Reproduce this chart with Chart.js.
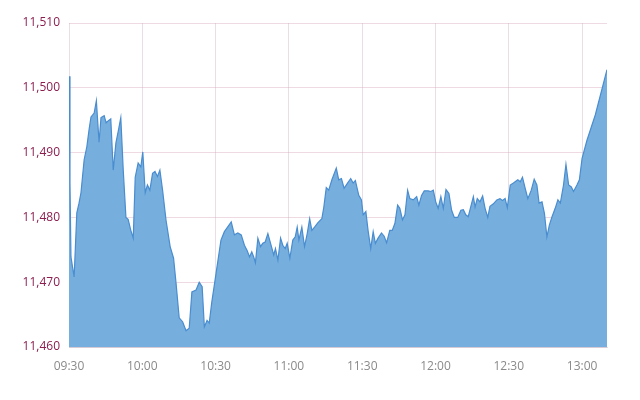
<!DOCTYPE html>
<html>
<head>
<meta charset="utf-8">
<script src="https://cdn.jsdelivr.net/npm/chart.js@4"></script>
<style>
  html, body { margin: 0; padding: 0; background: #fff; }
  #wrap { width: 640px; height: 400px; position: relative; }
</style>
</head>
<body>
<div id="wrap"><canvas id="myChart" width="640" height="400"></canvas></div>
<script>
// minutes after 09:30
const minutes = [0, 0.4, 0.8, 2.1, 3.2, 4.1, 4.9, 6.2, 7.3, 8.2, 9.0, 10.3, 11.2, 12.3, 13.1, 14.4, 15.2, 16.0, 17.1, 18.1,
  19.2, 20.1, 21.2, 22.2, 23.3, 24.2, 25.3, 26.3, 27.1, 28.3, 29.4, 30.2, 31.2, 32.1, 33.1, 34.2, 35.2, 36.2, 37.2, 38.3,
  39.7, 41.4, 42.8, 43.8, 45.1, 46.5, 47.9, 49.2, 50.3, 52.0, 53.3, 54.5, 55.4, 56.5, 57.4, 58.4, 60.2, 62.2, 63.6, 64.9,
  66.4, 67.7, 69.1, 70.5, 71.8, 72.9, 73.9, 74.8, 75.6, 76.3, 77.3, 78.4, 79.3, 80.3, 81.4, 82.5, 83.8, 84.5, 85.5, 86.6,
  87.5, 88.5, 89.3, 90.4, 91.6, 92.6, 93.4, 94.1, 95.3, 96.4, 97.5, 98.5, 99.4, 100.5, 101.9, 103.5, 104.3, 105.3, 106.3, 107.6,
  109.4, 110.4, 111.5, 112.6, 114.0, 115.3, 116.3, 117.2, 118.6, 119.7, 120.4, 121.5, 122.4, 123.5, 124.5, 125.4, 126.5, 127.9, 129.0, 130.0,
  131.3, 132.3, 133.4, 134.5, 135.4, 136.5, 137.5, 138.6, 139.5, 140.9, 142.3, 143.2, 144.3, 145.4, 147.0, 148.1, 149.1, 150.1, 151.1, 152.2,
  153.2, 154.3, 155.5, 156.6, 157.7, 159.1, 160.4, 161.4, 162.4, 163.4, 164.4, 165.5, 166.2, 167.1, 168.2, 169.3, 170.3, 171.4, 172.3, 173.7,
  175.1, 176.4, 177.4, 178.5, 179.4, 180.6, 181.9, 183.7, 184.7, 185.6, 186.7, 187.8, 189.2, 190.4, 191.5, 192.4, 193.6, 194.6, 195.6, 196.6,
  197.7, 199.0, 200.1, 201.1, 202.4, 203.4, 204.5, 205.6, 206.5, 207.9, 208.9, 210.0, 212.0, 215.4, 220.2];

const prices = [11501.8, 11485.3, 11473.9, 11470.8, 11480.7, 11482.2, 11483.8, 11488.9, 11490.9, 11493.5, 11495.5, 11496.1, 11498.0, 11491.6, 11495.4, 11495.7, 11494.6, 11494.9, 11495.2, 11487.3,
  11491.5, 11493.2, 11495.4, 11487.3, 11480.0, 11479.7, 11478.0, 11476.8, 11486.2, 11488.4, 11487.8, 11490.1, 11483.8, 11485.0, 11484.2, 11486.8, 11487.1, 11486.3, 11487.3, 11484.2,
  11479.6, 11475.5, 11473.7, 11469.9, 11464.5, 11463.9, 11462.5, 11462.9, 11468.5, 11468.8, 11470.0, 11469.3, 11463.1, 11464.1, 11463.7, 11466.8, 11471.4, 11476.5, 11477.8, 11478.5,
  11479.3, 11477.3, 11477.6, 11477.3, 11475.7, 11474.9, 11473.9, 11474.7, 11473.9, 11473.0, 11476.8, 11475.5, 11476.0, 11476.2, 11477.5, 11476.0, 11474.2, 11475.2, 11473.4, 11476.8,
  11475.7, 11475.2, 11476.0, 11473.7, 11476.5, 11477.0, 11478.5, 11476.5, 11478.5, 11475.5, 11477.5, 11479.8, 11478.0, 11478.5, 11479.2, 11479.8, 11481.6, 11484.6, 11484.2, 11485.8,
  11487.6, 11485.8, 11486.0, 11484.5, 11485.3, 11486.0, 11485.3, 11485.7, 11483.4, 11482.7, 11480.4, 11480.9, 11478.0, 11475.2, 11477.8, 11476.0, 11476.8, 11477.6, 11477.1, 11476.1,
  11478.0, 11478.0, 11479.1, 11481.9, 11481.4, 11479.6, 11480.4, 11484.2, 11482.9, 11482.7, 11483.2, 11481.9, 11483.4, 11484.1, 11484.1, 11484.0, 11484.2, 11482.4, 11481.4, 11483.2,
  11481.4, 11484.3, 11483.7, 11481.1, 11480.0, 11480.0, 11481.1, 11481.2, 11480.4, 11480.1, 11481.6, 11483.2, 11481.6, 11482.9, 11482.4, 11483.3, 11481.4, 11480.0, 11481.7, 11482.1,
  11482.7, 11482.9, 11482.6, 11482.9, 11481.5, 11485.0, 11485.3, 11485.8, 11485.5, 11486.2, 11484.5, 11482.9, 11484.2, 11485.9, 11485.0, 11482.2, 11482.4, 11480.6, 11477.0, 11478.8,
  11480.1, 11481.4, 11482.7, 11482.2, 11485.0, 11488.2, 11485.0, 11484.7, 11484.0, 11485.0, 11485.8, 11489.1, 11491.9, 11495.8, 11502.8];

const tickMinutes = [0, 30, 60, 90, 120, 150, 180, 210];
const tickLabels = ['09:30', '10:00', '10:30', '11:00', '11:30', '12:00', '12:30', '13:00'];
const yTicks = [11460, 11470, 11480, 11490, 11500, 11510];

const points = minutes.map((m, i) => ({ x: m, y: prices[i] }));

const config = {
  type: 'line',
  data: {
    datasets: [{
      data: points,
      borderColor: '#4a8dcf',
      backgroundColor: '#76aede',
      borderWidth: 1.2,
      pointRadius: 0,
      tension: 0,
      fill: 'start'
    }]
  },
  options: {
    responsive: false,
    animation: false,
    layout: { padding: { top: 23, right: 33, left: 0, bottom: 0 } },
    plugins: { legend: { display: false }, tooltip: { enabled: false } },
    scales: {
      x: {
        type: 'linear',
        min: 0,
        max: minutes[minutes.length - 1],
        afterBuildTicks: (scale) => { scale.ticks = tickMinutes.map(v => ({ value: v })); },
        afterFit: (scale) => { scale.height = 53; },
        grid: { color: 'rgba(190,160,175,0.35)', drawTicks: false },
        border: { color: 'rgba(190,190,200,0.5)' },
        ticks: {
          padding: 12,
          color: '#8a8a8a',
          font: { family: 'Open Sans', size: 12 },
          maxRotation: 0,
          callback: (v) => tickLabels[tickMinutes.indexOf(v)]
        }
      },
      y: {
        min: yTicks[0],
        max: yTicks[yTicks.length - 1],
        afterBuildTicks: (scale) => { scale.ticks = yTicks.map(v => ({ value: v })); },
        afterFit: (scale) => { scale.width = 69; },
        grid: { color: 'rgba(220,170,190,0.45)', drawTicks: false },
        border: { display: false },
        ticks: {
          padding: 9,
          color: '#8b1e4f',
          font: { family: 'Open Sans', size: 12 },
          callback: (v) => v.toLocaleString('en-US')
        }
      }
    }
  }
};

const myChart = new Chart(document.getElementById('myChart'), config);
</script>
</body>
</html>
